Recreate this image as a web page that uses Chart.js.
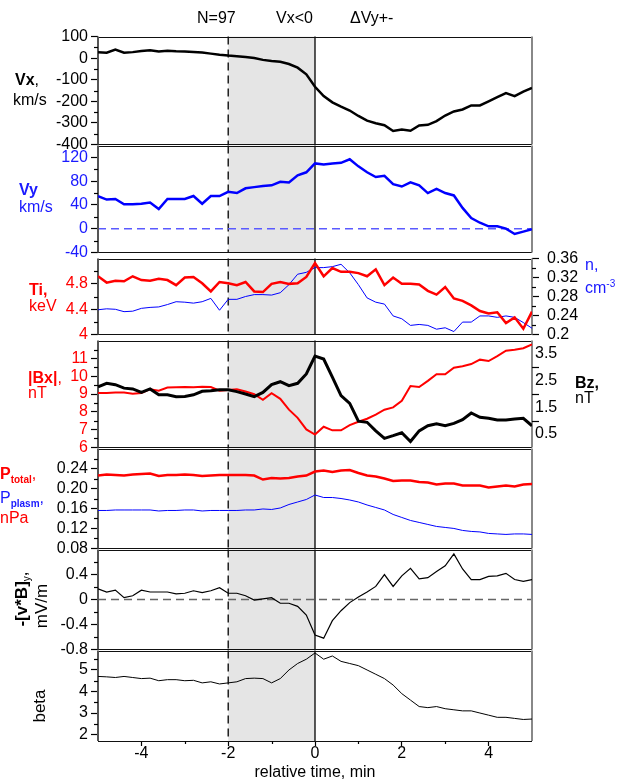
<!DOCTYPE html>
<html>
<head>
<meta charset="utf-8">
<title>Vx&lt;0 superposed epoch</title>
<script src="https://cdn.jsdelivr.net/npm/chart.js"></script>
<style>
  body { margin: 0; background: #fff; }
  #wrap { position: relative; width: 625px; height: 783px; overflow: hidden;
          font-family: "Liberation Sans", Arial, sans-serif; }
  #wrap canvas { position: absolute; left: 0; }
  .t { position: absolute; font-size: 16px; line-height: 17px; white-space: nowrap; z-index: 5; }
  .red { color: #ff0000; }
  .blue { color: #1a1aff; }
  .sub { font-size: 10px; font-weight: bold; vertical-align: -4px; }
  .rot { position: absolute; transform: translate(-50%, -50%) rotate(-90deg);
         font-size: 17px; white-space: nowrap; z-index: 5; }
</style>
</head>
<body>
<div id="wrap">
  <div class="t" style="left:197px;top:9px">N=97</div>
  <div class="t" style="left:276px;top:9px">Vx&lt;0</div>
  <div class="t" style="left:350px;top:9px">&Delta;Vy+-</div>

  <div class="t" style="left:15px;top:71px"><b>Vx</b>,</div>
  <div class="t" style="left:13px;top:91px">km/s</div>

  <div class="t blue" style="left:19px;top:181px"><b>Vy</b></div>
  <div class="t blue" style="left:19px;top:198px">km/s</div>

  <div class="t red" style="left:29px;top:281px"><b>Ti,</b></div>
  <div class="t red" style="left:29px;top:297px">keV</div>

  <div class="t blue" style="left:585px;top:256px">n,</div>
  <div class="t blue" style="left:585px;top:275px">cm<sup style="font-size:10px">-3</sup></div>

  <div class="t red" style="left:28px;top:369px"><b>|Bx|</b>,</div>
  <div class="t red" style="left:28px;top:384px">nT</div>

  <div class="t" style="left:575px;top:374px"><b>Bz,</b></div>
  <div class="t" style="left:575px;top:389px">nT</div>

  <div class="t red" style="left:0;top:465px"><b>P</b><span class="sub">total</span>,</div>
  <div class="t blue" style="left:0;top:489px">P<span class="sub">plasm</span>,</div>
  <div class="t red" style="left:0;top:509px">nPa</div>

  <div class="rot" style="left:22px;top:599px"><b>-[v*B]</b><span style="font-size:10px;vertical-align:-3px">y</span>,</div>
  <div class="rot" style="left:42px;top:606px">mV/m</div>

  <div class="rot" style="left:40px;top:706px">beta</div>
</div>

<script>
// relative time, min
const times = [-5, -4.8, -4.6, -4.4, -4.2, -4, -3.8, -3.6, -3.4, -3.2, -3, -2.8, -2.6, -2.4, -2.2,
  -2, -1.8, -1.6, -1.4, -1.2, -1, -0.8, -0.6, -0.4, -0.2, 0, 0.2, 0.4, 0.6, 0.8, 1, 1.2, 1.4,
  1.6, 1.8, 2, 2.2, 2.4, 2.6, 2.8, 3, 3.2, 3.4, 3.6, 3.8, 4, 4.2, 4.4, 4.6, 4.8, 5];

// km/s
const vx = [27, 25, 40, 25, 28, 33, 37, 31, 34, 32, 31, 29, 26, 21, 16, 12, 9, 5, 1, -8, -13, -17,
  -27, -44, -75, -133, -176, -205, -225, -243, -268, -290, -302, -311, -338, -331, -337, -312,
  -309, -292, -266, -247, -238, -219, -219, -200, -181, -162, -176, -155, -138];
const vy = [55, 49, 50, 41, 41, 42, 44, 33, 50, 50, 50, 55, 42, 55, 55, 62, 60, 68, 70, 72, 73, 79,
  78, 90, 95, 110, 108, 110, 111, 117, 105, 95, 87, 89, 75, 71, 78, 73, 60, 67, 60, 56, 35, 18,
  10, 4, 4, 0, -9, -5, -1];

// keV and cm-3
const ti = [4.92, 4.82, 4.85, 4.84, 4.92, 4.86, 4.85, 4.88, 4.86, 4.78, 4.90, 4.91, 4.81, 4.68,
  4.83, 4.81, 4.78, 4.83, 4.68, 4.67, 4.80, 4.83, 4.80, 4.81, 4.91, 5.13, 4.92, 5.05, 4.99, 4.99,
  4.97, 4.92, 5.03, 4.78, 4.90, 4.80, 4.80, 4.79, 4.69, 4.63, 4.75, 4.57, 4.53, 4.46, 4.37, 4.33,
  4.35, 4.18, 4.27, 4.09, 4.36];
const dens = [0.252, 0.254, 0.253, 0.248, 0.249, 0.255, 0.257, 0.258, 0.263, 0.269, 0.268, 0.266,
  0.269, 0.276, 0.251, 0.274, 0.274, 0.280, 0.284, 0.284, 0.283, 0.288, 0.305, 0.327, 0.331,
  0.341, 0.341, 0.343, 0.348, 0.330, 0.305, 0.277, 0.268, 0.264, 0.239, 0.233, 0.219, 0.221,
  0.219, 0.211, 0.214, 0.206, 0.226, 0.226, 0.239, 0.239, 0.236, 0.239, 0.236, 0.225, 0.213];

// nT
const bxAbs = [9.05, 9.06, 9.08, 9.08, 9.02, 9.05, 9.27, 9.19, 9.36, 9.38, 9.39, 9.38, 9.41, 9.39,
  9.19, 9.23, 9.27, 9.14, 8.99, 8.67, 9.05, 8.73, 8.12, 7.66, 7.01, 6.72, 7.16, 6.96, 6.96, 7.25,
  7.44, 7.61, 7.84, 8.12, 8.25, 8.62, 9.45, 9.39, 9.74, 10.11, 10.11, 10.48, 10.56, 10.68, 10.93,
  10.85, 11.13, 11.43, 11.48, 11.57, 11.79];
const bz = [2.27, 2.40, 2.35, 2.22, 2.19, 2.06, 2.19, 1.97, 1.97, 1.90, 1.91, 1.97, 2.10, 2.12,
  2.16, 2.16, 2.09, 2.00, 1.90, 2.06, 2.35, 2.46, 2.31, 2.40, 2.75, 3.42, 3.31, 2.63, 1.94, 1.65,
  0.98, 0.94, 0.62, 0.34, 0.44, 0.55, 0.22, 0.62, 0.81, 0.88, 0.81, 0.90, 1.04, 1.29, 1.13, 1.09,
  1.03, 1.03, 1.06, 1.09, 0.81];

// nPa
const pTotal = [0.226, 0.228, 0.227, 0.226, 0.228, 0.229, 0.230, 0.225, 0.227, 0.227, 0.228,
  0.227, 0.225, 0.226, 0.227, 0.227, 0.227, 0.227, 0.226, 0.218, 0.221, 0.220, 0.221, 0.224,
  0.226, 0.234, 0.236, 0.233, 0.236, 0.237, 0.231, 0.226, 0.224, 0.220, 0.215, 0.216, 0.216,
  0.213, 0.212, 0.208, 0.210, 0.210, 0.206, 0.206, 0.206, 0.202, 0.204, 0.206, 0.204, 0.208, 0.209];
const pPlasma = [0.156, 0.156, 0.157, 0.157, 0.157, 0.157, 0.157, 0.155, 0.156, 0.156, 0.157,
  0.157, 0.155, 0.156, 0.156, 0.156, 0.156, 0.157, 0.157, 0.159, 0.158, 0.161, 0.168, 0.173,
  0.178, 0.187, 0.182, 0.182, 0.180, 0.177, 0.173, 0.167, 0.162, 0.157, 0.148, 0.142, 0.136,
  0.132, 0.128, 0.124, 0.122, 0.120, 0.116, 0.114, 0.113, 0.110, 0.109, 0.108, 0.109, 0.109, 0.108];

// mV/m
const eField = [0.17, 0.12, 0.15, 0.03, 0.06, 0.15, 0.12, 0.12, 0.12, 0.09, 0.10, 0.14, 0.11, 0.14,
  0.19, 0.10, 0.10, 0.06, -0.01, 0.01, 0.03, -0.06, -0.06, -0.11, -0.25, -0.57, -0.62, -0.34,
  -0.18, -0.05, 0.04, 0.12, 0.21, 0.40, 0.21, 0.38, 0.50, 0.33, 0.35, 0.45, 0.54, 0.73, 0.49,
  0.32, 0.32, 0.37, 0.38, 0.42, 0.32, 0.29, 0.32];

const beta = [4.70, 4.68, 4.65, 4.70, 4.65, 4.60, 4.62, 4.50, 4.55, 4.55, 4.50, 4.52, 4.40, 4.45,
  4.35, 4.40, 4.45, 4.60, 4.62, 4.60, 4.40, 4.60, 5.00, 5.30, 5.50, 5.79, 5.50, 5.65, 5.40, 5.30,
  5.20, 5.00, 4.80, 4.60, 4.30, 3.90, 3.60, 3.30, 3.25, 3.30, 3.20, 3.15, 3.10, 3.10, 3.00, 2.90,
  2.80, 2.80, 2.75, 2.70, 2.72];

const xTicks = [-4, -2, 0, 2, 4];
const betaTicks = [2, 3, 4, 5];

const RED = '#ff0000', BLUE = '#0000ff', TXT_BLUE = '#1a1aff';
const WIDTH = 625, LEFT = 98, RIGHT = 532, PAD = 12;
const FONT = { family: '"Liberation Sans", Arial, sans-serif', size: 16 };
const wrap = document.getElementById('wrap');

const pts = arr => arr.map((v, i) => ({ x: times[i], y: v }));
const near = (a, b) => Math.abs(a - b) < 1e-6;
const onStep = (v, s) => near(v / s, Math.round(v / s));
const crisp = v => Math.round(v) + 0.5;

// shading between -2 and 0, event lines, panel frame and zero lines
const deco = {
  id: 'deco',
  beforeDatasetsDraw(chart, args, opts) {
    const { ctx, chartArea: a, scales } = chart;
    const x = scales.x;
    const xs = x.getPixelForValue(-2), x0 = x.getPixelForValue(0);
    ctx.save();
    ctx.fillStyle = '#e5e5e5';
    ctx.fillRect(xs, a.top, x0 - xs, a.bottom - a.top);

    ctx.strokeStyle = '#000';
    ctx.lineWidth = 1.3;
    ctx.setLineDash([8, 5]);
    ctx.beginPath(); ctx.moveTo(xs, a.top); ctx.lineTo(xs, a.bottom); ctx.stroke();
    ctx.setLineDash([]);
    ctx.beginPath(); ctx.moveTo(x0, a.top); ctx.lineTo(x0, a.bottom); ctx.stroke();

    if (opts.zero) {
      const y0 = scales.y.getPixelForValue(0);
      ctx.strokeStyle = opts.zero;
      ctx.lineWidth = 1.5;
      ctx.setLineDash([8, 5]);
      ctx.beginPath(); ctx.moveTo(a.left, y0); ctx.lineTo(a.right, y0); ctx.stroke();
      ctx.setLineDash([]);
    }

    ctx.lineWidth = 1;
    ctx.strokeStyle = '#111';
    ctx.beginPath();
    ctx.moveTo(a.left, crisp(a.top)); ctx.lineTo(a.right, crisp(a.top));
    ctx.moveTo(a.left, crisp(a.bottom)); ctx.lineTo(a.right, crisp(a.bottom));
    ctx.stroke();
    ctx.strokeStyle = '#555';
    ctx.lineWidth = 2;
    ctx.beginPath(); ctx.moveTo(a.left, a.top); ctx.lineTo(a.left, a.bottom); ctx.stroke();
    ctx.strokeStyle = '#888';
    ctx.beginPath(); ctx.moveTo(a.right, a.top); ctx.lineTo(a.right, a.bottom); ctx.stroke();
    ctx.restore();
  },
  // short unlabelled ticks
  afterDraw(chart) {
    const { ctx, chartArea: a } = chart;
    ctx.save();
    ctx.strokeStyle = '#000';
    ctx.lineWidth = 1.2;
    Object.values(chart.scales).forEach(s => {
      const len = s.options.minorLen;
      if (!len || !s.options.display) return;
      const step = s.options.ticks.stepSize;
      s.ticks.forEach(t => {
        if (t.label !== '' || !onStep(t.value, step) || near(t.value, s.min) || near(t.value, s.max)) return;
        const p = crisp(s.getPixelForValue(t.value));
        ctx.beginPath();
        if (s.position === 'left') { ctx.moveTo(a.left - len, p); ctx.lineTo(a.left, p); }
        else if (s.position === 'right') { ctx.moveTo(a.right, p); ctx.lineTo(a.right + len, p); }
        else { ctx.moveTo(p, a.bottom); ctx.lineTo(p, a.bottom + len); }
        ctx.stroke();
      });
    });
    ctx.restore();
  }
};

function yAxis(side, min, max, step, label, color, extra) {
  const ax = {
    type: 'linear', position: side, min, max,
    ticks: { stepSize: step, color, font: FONT, padding: side === 'left' ? 3 : 8,
             autoSkip: false, callback: label },
    grid: { drawOnChartArea: false, tickLength: 7, tickWidth: 1.2,
            tickColor: c => (c.tick && c.tick.label !== '') ? '#000' : 'rgba(0,0,0,0)' },
    border: { display: false },
    minorLen: 4,
    afterFit: s => { s.width = side === 'left' ? LEFT : WIDTH - RIGHT; }
  };
  return Object.assign(ax, extra || {});
}

function line(data, color, width) {
  return { data: pts(data), borderColor: color, borderWidth: width, pointRadius: 0,
           tension: 0, fill: false, borderJoinStyle: 'miter' };
}

function panel(top, bottom, datasets, scales, zero, last) {
  const cTop = top - PAD;
  const cBottom = last ? 783 : bottom + PAD;
  const canvas = document.createElement('canvas');
  canvas.width = WIDTH;
  canvas.height = cBottom - cTop;
  canvas.style.top = cTop + 'px';
  wrap.appendChild(canvas);

  const x = {
    type: 'linear', min: -5, max: 5, display: !!last,
    ticks: { stepSize: 1, color: '#000', font: FONT, padding: -2, autoSkip: false, maxRotation: 0,
             callback: v => xTicks.some(t => near(t, v)) ? String(Math.round(v)) : '' },
    grid: { drawOnChartArea: false, tickLength: 5, tickWidth: 1.2,
            tickColor: c => (c.tick && c.tick.label !== '') ? '#000' : 'rgba(0,0,0,0)' },
    border: { display: false },
    minorLen: 3,
    title: { display: true, text: 'relative time, min', color: '#000', font: FONT,
             padding: { top: 0, bottom: 1 } }
  };
  if (last) x.afterFit = s => { s.height = cBottom - bottom; };
  const hasRight = Object.values(scales).some(s => s.position === 'right');

  return new Chart(canvas, {
    type: 'line',
    data: { datasets },
    options: {
      responsive: false,
      animation: false,
      events: [],
      layout: { padding: { top: PAD, bottom: last ? 0 : PAD, left: 0, right: hasRight ? 0 : WIDTH - RIGHT } },
      plugins: { legend: { display: false }, tooltip: { enabled: false }, deco: { zero } },
      scales: Object.assign({ x }, scales)
    },
    plugins: [deco]
  });
}

const fmt = (v, d) => String(Number(v.toFixed(d)));

// Vx
panel(36, 145, [line(vx, '#000', 2.5)], {
  y: yAxis('left', -400, 100, 50, v => onStep(v, 100) ? fmt(v, 0) : '', '#000')
});

// Vy
panel(145, 253, [line(vy, BLUE, 2.5)], {
  y: yAxis('left', -40, 140, 20, v => (onStep(v, 40) && !near(v, 140)) ? fmt(v, 0) : '', TXT_BLUE)
}, '#5a5aff');

// Ti and n
panel(253, 340, [
  Object.assign(line(ti, RED, 2.5), { yAxisID: 'y' }),
  Object.assign(line(dens, BLUE, 1), { yAxisID: 'y2' })
], {
  y: yAxis('left', 4, 5.2, 0.2, v => (onStep(v, 0.4) && !near(v, 5.2)) ? fmt(v, 1) : '', RED),
  y2: yAxis('right', 0.2, 0.36, 0.02, v => onStep(v, 0.04) ? fmt(v, 2) : '', '#000')
});

// |Bx| and Bz
panel(340, 448, [
  Object.assign(line(bz, '#000', 3), { yAxisID: 'y2' }),
  Object.assign(line(bxAbs, RED, 2), { yAxisID: 'y' })
], {
  y: yAxis('left', 6, 12, 0.5, v => (onStep(v, 1) && !near(v, 12)) ? fmt(v, 0) : '', RED),
  y2: yAxis('right', 0, 4, 0.5, null, '#000',
    { ticks: { stepSize: 0.5, color: '#000', font: FONT, padding: 3, autoSkip: false,
               callback: v => onStep(v - 0.5, 1) ? fmt(v, 1) : '' },
      grid: { drawOnChartArea: false, drawTicks: false }, minorLen: 7 })
});

// pressures
panel(448, 549, [line(pTotal, RED, 2.5), line(pPlasma, BLUE, 1)], {
  y: yAxis('left', 0.08, 0.28, 0.02, v => (onStep(v, 0.04) && !near(v, 0.28)) ? v.toFixed(2) : '', '#000')
});

// -[v*B]y
panel(549, 650, [line(eField, '#000', 1.2)], {
  y: yAxis('left', -0.8, 0.8, 0.2, v => (onStep(v, 0.4) && !near(v, 0.8)) ? fmt(v, 1) : '', '#000')
}, '#666');

// beta: ticks every half unit from the first labelled value, labels on whole units
panel(650, 741, [line(beta, '#000', 1)], {
  y: yAxis('left', 1.7, 5.9, 0.5, v => betaTicks.some(t => near(t, v)) ? fmt(v, 0) : '', '#000', {
    afterBuildTicks: s => {
      const out = [];
      for (let v = betaTicks[0]; v < s.max; v += 0.5) out.push({ value: v });
      s.ticks = out;
    }
  })
}, null, true);
</script>
</body>
</html>
